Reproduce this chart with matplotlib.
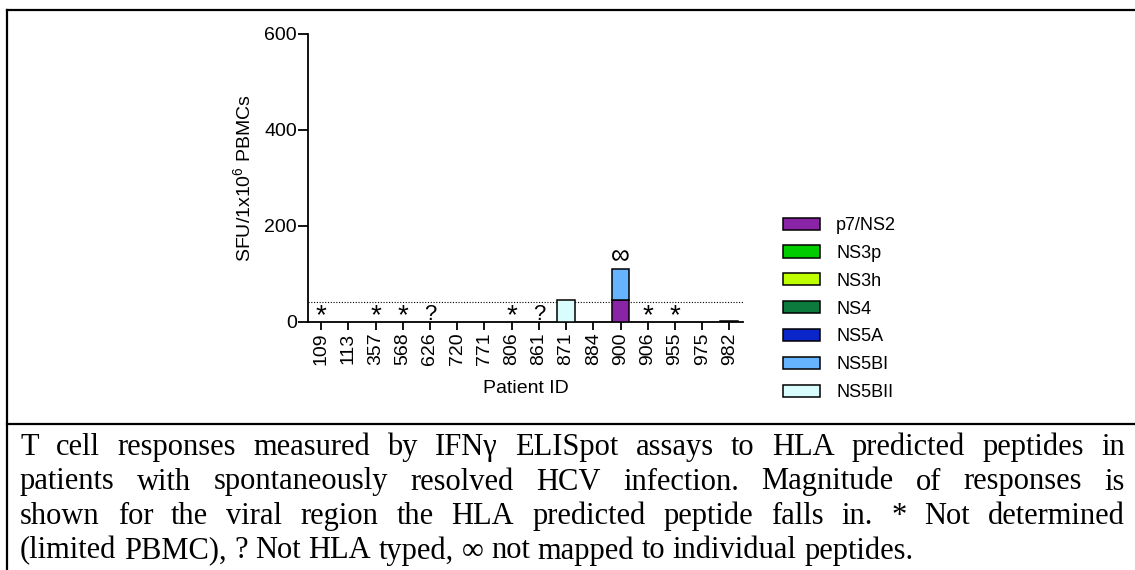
import matplotlib
matplotlib.use("Agg")
import matplotlib.pyplot as plt
from matplotlib.lines import Line2D
from matplotlib.patches import Patch
import numpy as np

plt.rcParams["font.family"] = ["Liberation Sans", "DejaVu Sans"]
plt.rcParams["mathtext.default"] = "regular"

patients = ["109", "113", "357", "568", "626", "720", "771", "806",
            "861", "871", "884", "900", "906", "955", "975", "982"]

regions = ["p7/NS2", "NS3p", "NS3h", "NS4", "NS5A", "NS5BI", "NS5BII"]
colors = ["#8a24a6", "#00cc00", "#bfff00", "#0b7a3c", "#0a26c8", "#66b3ff", "#d9fcfc"]

# SFU per region, one value per patient (stacked bottom to top)
p7_ns2 = [0, 0, 0, 0, 0, 0, 0, 0, 0, 0, 0, 45, 0, 0, 0, 0]
ns3p = [0] * 16
ns3h = [0] * 16
ns4 = [0] * 16
ns5a = [0] * 16
ns5bi = [0, 0, 0, 0, 0, 0, 0, 0, 0, 0, 0, 65, 0, 0, 0, 0]
ns5bii = [0, 0, 0, 0, 0, 0, 0, 0, 0, 46, 0, 0, 0, 0, 0, 1.5]
series = [p7_ns2, ns3p, ns3h, ns4, ns5a, ns5bi, ns5bii]

# * not determined, ? not HLA typed, inf not mapped
marks = ["*", "", "*", "*", "?", "", "", "*", "?", "", "", "∞", "*", "*", "", ""]
threshold = 42

caption = [
    "T cell responses measured by IFNγ ELISpot assays to HLA predicted peptides in",
    "patients with spontaneously resolved HCV infection. Magnitude of responses is",
    "shown for the viral region the HLA predicted peptide falls in. * Not determined",
    "(limited PBMC), ? Not HLA typed, ∞ not mapped to individual peptides.",
]

W, H = 1135, 570
fig = plt.figure(figsize=(W / 100, H / 100), dpi=100)
ax = fig.add_axes([308 / W, 1 - 322 / H, (743 - 308) / W, (322 - 34) / H])

x = np.arange(len(patients))
bottom = np.zeros(len(patients))
for name, vals, c in zip(regions, series, colors):
    vals = np.array(vals, dtype=float)
    mask = vals > 0
    ax.bar(x[mask], vals[mask], 0.66, bottom=bottom[mask], color=c,
           edgecolor="black", linewidth=1.1, zorder=3)
    bottom += vals

totals = bottom
for i, m in enumerate(marks):
    if m == "*":
        ax.text(i, 13, m, ha="center", va="center", fontsize=20)
    elif m == "?":
        ax.text(i, 5, m, ha="center", va="baseline", fontsize=16)
    elif m:
        ax.text(i, totals[i] + 27, m, ha="center", va="center", fontsize=19)

ax.axhline(threshold, color="black", linestyle=(0, (1, 1.5)), linewidth=0.8, zorder=2)

ax.set_xlim(-0.48, 15.5)
ax.set_ylim(0, 600)
ax.set_yticks([0, 200, 400, 600])
ax.set_xticks(x)
ax.set_xticklabels(patients, rotation=90)
ax.tick_params(axis="both", labelsize=14, width=1.3, direction="out")
ax.tick_params(axis="y", length=7, pad=1)
ax.tick_params(axis="x", length=5.5, pad=2)
for s in ["top", "right"]:
    ax.spines[s].set_visible(False)
for s in ["left", "bottom"]:
    ax.spines[s].set_linewidth(1.3)
ax.set_ylabel("SFU/1x10$^{6}$ PBMCs", fontsize=14, labelpad=7)
ax.set_xlabel("Patient ID", fontsize=14, labelpad=11)

handles = [Patch(facecolor=c, edgecolor="black", linewidth=1.1) for c in colors]
fig.legend(handles, regions, loc="upper left", bbox_to_anchor=(783 / W, 1 - 217 / H),
           frameon=False, fontsize=13, handlelength=2.05, handleheight=0.67,
           handletextpad=0.9, labelspacing=0.6, borderpad=0, borderaxespad=0)

# frame around figure and caption
fig.add_artist(Line2D([7 / W, 7 / W], [0, 1 - 10 / H], color="black", linewidth=1.6))
fig.add_artist(Line2D([7 / W, 1], [1 - 10 / H, 1 - 10 / H], color="black", linewidth=1.6))
fig.add_artist(Line2D([7 / W, 1], [1 - 424 / H, 1 - 424 / H], color="black", linewidth=1.6))

# justified caption
renderer = fig.canvas.get_renderer()
x0, x1 = 20, 1125
base = 455
for k, line in enumerate(caption):
    words = line.split(" ")
    objs = [fig.text(0, 1 - (base + 34.5 * k) / H, w, fontsize=22, va="baseline",
                     family=["Liberation Serif", "DejaVu Serif"]) for w in words]
    widths = [o.get_window_extent(renderer).width for o in objs]
    if k < len(caption) - 1:
        gap = (x1 - x0 - sum(widths)) / (len(words) - 1)
    else:
        gap = 22 * 0.25 * 100 / 72
    pos = x0
    for o, w in zip(objs, widths):
        o.set_x(pos / W)
        pos += w + gap

fig.savefig("out.png", dpi=100)
